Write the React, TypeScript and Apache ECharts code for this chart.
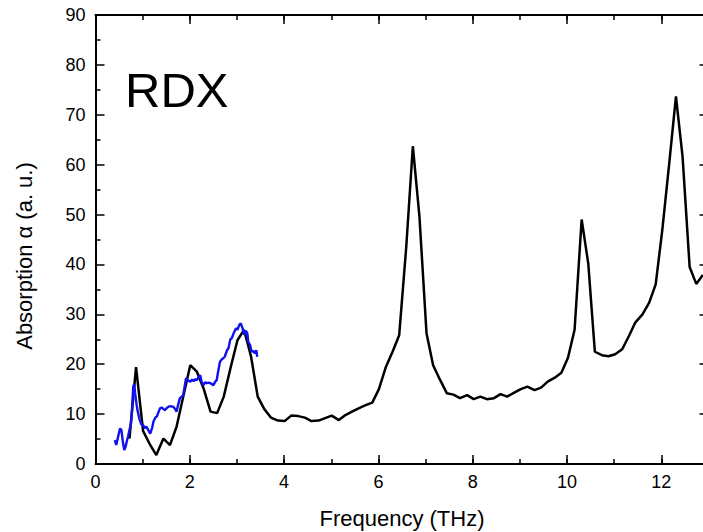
import React, { useEffect, useRef } from "react";
import * as echarts from "echarts";

// Black curve (measured spectrum)
const blackFreq = [
  0.72, 0.86, 1.01, 1.15, 1.29, 1.44, 1.58, 1.72, 1.86, 2.01,
  2.15, 2.29, 2.44, 2.58, 2.72, 2.87, 3.01, 3.15, 3.30, 3.44,
  3.58, 3.72, 3.87, 4.01, 4.15, 4.30, 4.44, 4.58, 4.73, 4.87,
  5.01, 5.16, 5.30, 5.44, 5.59, 5.73, 5.87, 6.01, 6.16, 6.30,
  6.44, 6.59, 6.73, 6.87, 7.02, 7.16, 7.30, 7.45, 7.59, 7.73,
  7.88, 8.02, 8.16, 8.30, 8.45, 8.59, 8.73, 8.88, 9.02, 9.16,
  9.31, 9.45, 9.59, 9.74, 9.88, 10.02, 10.16, 10.31, 10.45, 10.59,
  10.74, 10.88, 11.02, 11.17, 11.31, 11.45, 11.60, 11.74, 11.88, 12.02,
  12.17, 12.31, 12.45, 12.60, 12.74, 12.88,
];
const blackAbs = [
  5.1, 19.4, 6.6, 4.0, 1.8, 5.1, 3.8, 7.5, 13.5, 19.8,
  18.5, 15.2, 10.5, 10.2, 13.5, 19.5, 24.8, 26.9, 21.5, 13.5,
  11.0, 9.3, 8.7, 8.6, 9.7, 9.6, 9.3, 8.6, 8.7, 9.2,
  9.7, 8.8, 9.8, 10.5, 11.2, 11.8, 12.3, 15.0, 19.5, 22.5,
  25.8, 43.5, 63.7, 49.6, 26.2, 19.8, 17.0, 14.2, 13.9, 13.2,
  13.8, 13.0, 13.5, 13.0, 13.2, 14.0, 13.5, 14.3, 15.0, 15.5,
  14.8, 15.3, 16.5, 17.3, 18.3, 21.3, 26.9, 49.0, 40.2, 22.5,
  21.8, 21.6, 22.0, 23.0, 25.6, 28.4, 30.0, 32.3, 36.0, 46.9,
  60.5, 73.7, 61.6, 39.5, 36.1, 37.9,
];

// Blue curve (second measurement, low frequency)
const blueFreq = [
  0.41, 0.44, 0.48, 0.52, 0.55, 0.58, 0.61, 0.64, 0.66, 0.69,
  0.72, 0.75, 0.77, 0.80, 0.82, 0.84, 0.87, 0.89, 0.92, 0.94,
  0.97, 1.01, 1.05, 1.08, 1.12, 1.16, 1.20, 1.23, 1.27, 1.30,
  1.34, 1.37, 1.41, 1.44, 1.47, 1.51, 1.55, 1.59, 1.62, 1.65,
  1.69, 1.72, 1.75, 1.79, 1.83, 1.86, 1.89, 1.92, 1.96, 2.01,
  2.05, 2.08, 2.12, 2.15, 2.19, 2.22, 2.25, 2.29, 2.33, 2.36,
  2.40, 2.43, 2.47, 2.50, 2.54, 2.57, 2.60, 2.64, 2.68, 2.71,
  2.74, 2.79, 2.82, 2.86, 2.89, 2.93, 2.96, 2.98, 3.01, 3.05,
  3.08, 3.12, 3.15, 3.19, 3.22, 3.24, 3.28, 3.31, 3.34, 3.38,
  3.41, 3.43,
];
const blueAbs = [
  4.8, 3.8, 5.5, 7.1, 6.8, 4.5, 2.8, 3.5, 4.4, 5.5,
  6.8, 8.0, 10.2, 15.5, 16.0, 14.2, 12.0, 10.8, 9.5, 8.8,
  8.0, 7.8, 7.2, 7.5, 6.8, 6.1, 7.2, 8.5, 9.3, 9.5,
  10.5, 11.2, 11.3, 11.0, 10.8, 11.2, 11.5, 11.6, 11.5, 11.5,
  11.0, 10.5, 11.8, 13.2, 13.5, 13.8, 15.5, 17.2, 16.8, 16.5,
  16.9, 16.6, 17.0, 16.8, 17.5, 17.8, 16.5, 15.8, 16.4, 16.2,
  16.3, 16.2, 16.0, 15.8, 16.5, 16.8, 18.5, 20.5, 21.0, 21.2,
  21.5, 22.8, 23.2, 25.0, 25.2, 26.2, 26.8, 27.2, 26.9, 27.9,
  28.2, 27.2, 25.9, 26.7, 26.2, 24.5, 23.8, 22.5, 22.7, 22.2,
  22.8, 21.5,
];

const xMax = 13;
const xMajorStep = 2;
const xMinorStep = 1;
const yTickStep = 10;
const yMax = 90;

const FONT = '"Liberation Sans", Arial, sans-serif';

export default function App() {
  const ref = useRef<HTMLDivElement>(null);

  useEffect(() => {
    if (!ref.current) return;
    const chart = echarts.init(ref.current, undefined, { renderer: "svg" });
    const gridRect = { left: 95.5, top: 15, width: 613, height: 449, containLabel: false };

    const axisLine = { show: true, onZero: false, lineStyle: { color: "#000", width: 2 } };
    const tickStyle = { color: "#000", width: 1.5 };

    const majorX = {
      type: "value" as const,
      gridIndex: 0,
      min: 0,
      max: xMax,
      interval: xMajorStep,
      axisLine,
      splitLine: { show: false },
      axisTick: { show: true, inside: true, length: 9, lineStyle: tickStyle },
    };
    const minorX = {
      type: "value" as const,
      gridIndex: 1,
      min: 0,
      max: xMax,
      interval: xMinorStep,
      axisLine: { show: false, onZero: false },
      splitLine: { show: false },
      axisLabel: { show: false },
      axisTick: { show: true, inside: true, length: 5, lineStyle: tickStyle },
    };
    const baseY = {
      type: "value" as const,
      gridIndex: 0,
      min: 0,
      max: yMax,
      interval: yTickStep,
      axisLine,
      splitLine: { show: false },
      axisTick: { show: true, inside: true, length: 9, lineStyle: tickStyle },
    };

    chart.setOption({
      animation: false,
      backgroundColor: "#fff",
      grid: [gridRect, { ...gridRect }],
      xAxis: [
        {
          ...majorX,
          position: "bottom",
          axisLabel: {
            show: true,
            margin: 9,
            color: "#000",
            fontSize: 18,
            fontFamily: FONT,
            formatter: (v: number) => (v <= 12 ? String(v) : ""),
          },
        },
        { ...majorX, position: "top", axisLabel: { show: false } },
        { ...minorX, position: "bottom" },
        { ...minorX, position: "top" },
      ],
      yAxis: [
        {
          ...baseY,
          position: "left",
          minorTick: { show: true, splitNumber: 2, length: 5, lineStyle: tickStyle },
          axisLabel: { show: true, margin: 10, color: "#000", fontSize: 18, fontFamily: FONT },
        },
        { ...baseY, position: "right", axisLabel: { show: false } },
        {
          type: "value",
          gridIndex: 1,
          min: 0,
          max: yMax,
          show: false,
        },
      ],
      series: [
        {
          type: "line",
          name: "black",
          data: blackFreq.map((f, i) => [f, blackAbs[i]]),
          showSymbol: false,
          symbol: "none",
          lineStyle: { color: "#000", width: 2.5 },
          xAxisIndex: 0,
          yAxisIndex: 0,
          z: 2,
        },
        {
          type: "line",
          name: "blue",
          data: blueFreq.map((f, i) => [f, blueAbs[i]]),
          showSymbol: false,
          symbol: "none",
          lineStyle: { color: "#1010f0", width: 2.4 },
          xAxisIndex: 0,
          yAxisIndex: 0,
          z: 3,
        },
      ],
      graphic: [
        {
          type: "text",
          x: 125,
          y: 90,
          style: {
            text: "RDX",
            fill: "#000",
            font: `49px ${FONT}`,
            textAlign: "left",
            textVerticalAlign: "middle",
            align: "left",
            verticalAlign: "middle",
          },
        },
        {
          type: "text",
          x: 402,
          y: 518,
          style: {
            text: "Frequency (THz)",
            fill: "#000",
            font: `22px ${FONT}`,
            textAlign: "center",
            textVerticalAlign: "middle",
            align: "center",
            verticalAlign: "middle",
          },
        },
        {
          type: "text",
          x: 24,
          y: 256,
          rotation: Math.PI / 2,
          style: {
            text: "Absorption α (a. u.)",
            fill: "#000",
            font: `22px ${FONT}`,
            textAlign: "center",
            textVerticalAlign: "middle",
            align: "center",
            verticalAlign: "middle",
          },
        },
      ],
    });

    return () => chart.dispose();
  }, []);

  return (
    <div
      ref={ref}
      style={{ position: "fixed", left: 0, top: 0, width: 720, height: 532, background: "#fff" }}
    />
  );
}
